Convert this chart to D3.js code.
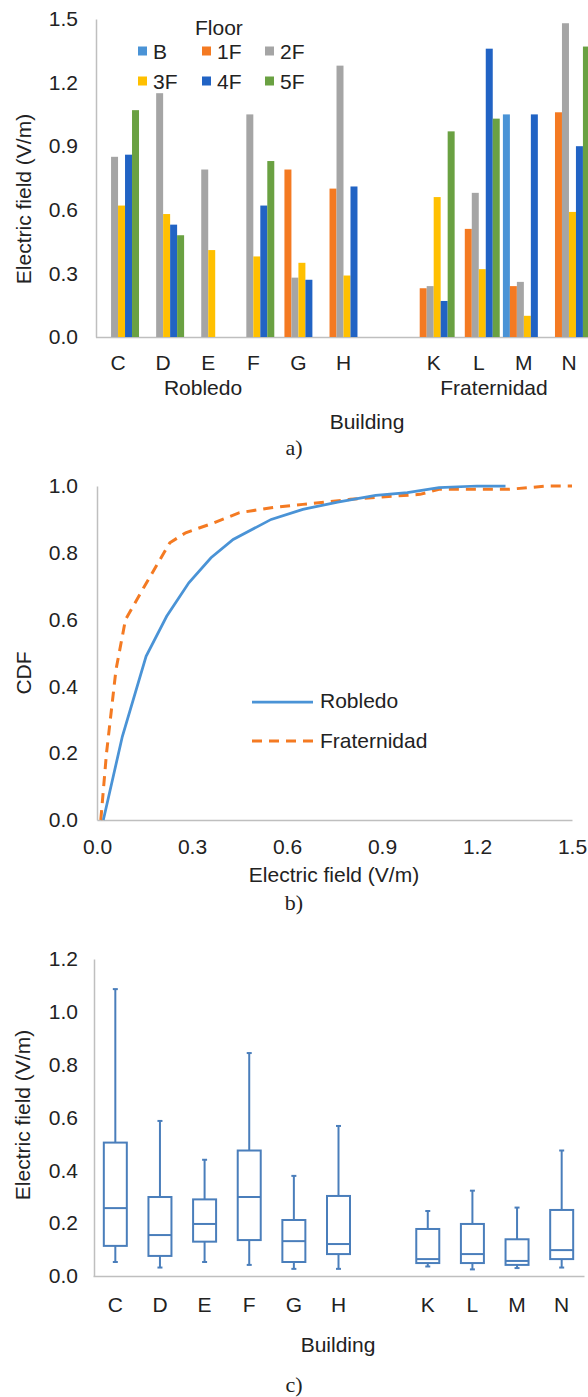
<!doctype html>
<html lang="en">
<head>
    <meta charset="utf-8">
    <title>Electric field by building</title>
    <script src="https://cdnjs.cloudflare.com/ajax/libs/d3/7.8.5/d3.min.js"></script>
    <style>
        body { margin: 0; background: #fff; }
        svg text {
            font-family: "Liberation Sans", Arial, sans-serif;
            font-size: 21px;
            fill: #222;
        }
        svg text.caption {
            font-family: "Liberation Serif", "Times New Roman", serif;
            font-size: 22px;
        }
        .axis path.domain { stroke: #bfbfbf; stroke-width: 1.5; }
        .axis line { stroke: none; }
    </style>
</head>
<body>
    <div id="chart"></div>
    <script>
        // ---- data ----
        var robledo = ["C", "D", "E", "F", "G", "H"];
        var fraternidad = ["K", "L", "M", "N"];
        var buildings = robledo.concat(fraternidad);
        var floors = ["B", "1F", "2F", "3F", "4F", "5F"];
        var floorColors = ["#4a93d6", "#f47a22", "#a5a5a5", "#ffc000", "#2163c4", "#6aa142"];

        // panel a: mean field per floor, in building order C..H, K..N (null = not measured)
        var fieldB  = [null, null, null, null, null, null, null, null, 1.05, null];
        var field1F = [null, null, null, null, 0.79, 0.70, 0.23, 0.51, 0.24, 1.06];
        var field2F = [0.85, 1.15, 0.79, 1.05, 0.28, 1.28, 0.24, 0.68, 0.26, 1.48];
        var field3F = [0.62, 0.58, 0.41, 0.38, 0.35, 0.29, 0.66, 0.32, 0.10, 0.59];
        var field4F = [0.86, 0.53, null, 0.62, 0.27, 0.71, 0.17, 1.36, 1.05, 0.90];
        var field5F = [1.07, 0.48, null, 0.83, null, null, 0.97, 1.03, null, 1.37];
        var barTicks = [0, 0.3, 0.6, 0.9, 1.2, 1.5];

        // panel b: empirical CDF points [field, cdf]
        var cdfRobledo = [[0.02, 0], [0.08, 0.25], [0.155, 0.49], [0.22, 0.61], [0.29, 0.71],
            [0.36, 0.785], [0.43, 0.84], [0.55, 0.90], [0.65, 0.93], [0.76, 0.952],
            [0.88, 0.972], [0.98, 0.98], [1.08, 0.995], [1.2, 1.0], [1.29, 1.0]];
        var cdfFraternidad = [[0.012, 0], [0.03, 0.2], [0.06, 0.45], [0.09, 0.6], [0.15, 0.70],
            [0.23, 0.83], [0.28, 0.86], [0.37, 0.89], [0.45, 0.92], [0.55, 0.935],
            [0.65, 0.945], [0.8, 0.96], [0.9, 0.967], [1.02, 0.975], [1.08, 0.99],
            [1.3, 0.99], [1.42, 1.0], [1.5, 1.0]];
        var cdfXTicks = [0, 0.3, 0.6, 0.9, 1.2, 1.5];
        var cdfYTicks = [0, 0.2, 0.4, 0.6, 0.8, 1.0];

        // panel c: box plot statistics per building
        var boxMin    = [0.053, 0.032, 0.053, 0.042, 0.027, 0.027, 0.036, 0.025, 0.030, 0.032];
        var boxQ1     = [0.114, 0.076, 0.130, 0.136, 0.053, 0.083, 0.049, 0.049, 0.042, 0.064];
        var boxMedian = [0.257, 0.155, 0.197, 0.299, 0.132, 0.121, 0.064, 0.083, 0.057, 0.098];
        var boxQ3     = [0.505, 0.299, 0.290, 0.475, 0.212, 0.303, 0.178, 0.197, 0.139, 0.250];
        var boxMax    = [1.086, 0.587, 0.440, 0.844, 0.379, 0.568, 0.246, 0.323, 0.259, 0.475];
        var boxTicks = [0, 0.2, 0.4, 0.6, 0.8, 1.0, 1.2];

        var floorValues = [fieldB, field1F, field2F, field3F, field4F, field5F];
        var slots = robledo.concat(["gap"], fraternidad);
        var fmt = d3.format(".1f");

        var svg = d3.select('#chart')
            .append('svg')
            .attr('width', 588)
            .attr('height', 1397);

        function yTitle(g, text, cx, cy) {
            g.append('text')
                .attr('transform', 'translate(' + cx + ',' + cy + ') rotate(-90)')
                .attr('text-anchor', 'middle')
                .attr('dy', '0.36em')
                .text(text);
        }

        function label(g, text, x, y, cls) {
            g.append('text')
                .attr('class', cls || null)
                .attr('x', x)
                .attr('y', y)
                .attr('text-anchor', 'middle')
                .text(text);
        }

        // ===== panel a: grouped bars =====
        var a = svg.append('g');
        var xa = d3.scaleBand().domain(slots).range([95.5, 591.5])
            .paddingInner(0.07).paddingOuter(0.035);
        var xf = d3.scaleBand().domain(floors).range([0, xa.bandwidth()]);
        var ya = d3.scaleLinear().domain([0, 1.5]).range([337, 19]);

        a.append('g').attr('class', 'axis')
            .attr('transform', 'translate(96,0)')
            .call(d3.axisLeft(ya).tickValues(barTicks).tickFormat(fmt).tickSize(0).tickSizeOuter(0).tickPadding(18))
            .call(function(g) { g.selectAll('text').style('font-size', '21px'); });

        a.append('g').attr('class', 'axis')
            .attr('transform', 'translate(0,' + ya(0) + ')')
            .call(d3.axisBottom(xa).tickSize(0).tickSizeOuter(0).tickPadding(18)
                .tickFormat(function(d) { return d === 'gap' ? '' : d; }))
            .call(function(g) { g.selectAll('text').style('font-size', '21px'); });

        var barData = [];
        floorValues.forEach(function(vals, fi) {
            vals.forEach(function(v, bi) {
                if (v !== null) barData.push({ building: buildings[bi], floor: floors[fi], value: v, color: floorColors[fi] });
            });
        });

        a.selectAll('rect.bar')
            .data(barData)
            .enter().append('rect')
            .attr('class', 'bar')
            .attr('x', function(d) { return xa(d.building) + xf(d.floor); })
            .attr('width', xf.bandwidth())
            .attr('y', function(d) { return ya(d.value); })
            .attr('height', function(d) { return ya(0) - ya(d.value); })
            .attr('fill', function(d) { return d.color; });

        yTitle(a, 'Electric field (V/m)', 23, 199);
        label(a, 'Robledo', 203, 395);
        label(a, 'Fraternidad', 494, 395);
        label(a, 'Building', 367, 429);
        label(a, 'a)', 294, 455, 'caption');

        // legend
        a.append('text').attr('x', 195).attr('y', 34.5).text('Floor');
        var legendPos = [[138, 51], [202, 51], [265, 51], [138, 81], [202, 81], [265, 81]];
        var leg = a.selectAll('g.leg')
            .data(floors)
            .enter().append('g')
            .attr('class', 'leg')
            .attr('transform', function(d, i) { return 'translate(' + legendPos[i][0] + ',' + legendPos[i][1] + ')'; });
        leg.append('rect')
            .attr('x', 0).attr('y', -4.5)
            .attr('width', 9).attr('height', 9)
            .attr('fill', function(d, i) { return floorColors[i]; });
        leg.append('text')
            .attr('x', 15).attr('y', 7.5)
            .text(function(d) { return d; });

        // ===== panel b: CDF =====
        var b = svg.append('g');
        var xb = d3.scaleLinear().domain([0, 1.5]).range([97, 572]);
        var yb = d3.scaleLinear().domain([0, 1]).range([820, 486]);

        b.append('g').attr('class', 'axis')
            .attr('transform', 'translate(' + xb(0) + ',0)')
            .call(d3.axisLeft(yb).tickValues(cdfYTicks).tickFormat(fmt).tickSize(0).tickSizeOuter(0).tickPadding(19))
            .call(function(g) { g.selectAll('text').style('font-size', '21px'); });
        b.append('g').attr('class', 'axis')
            .attr('transform', 'translate(0,' + yb(0) + ')')
            .call(d3.axisBottom(xb).tickValues(cdfXTicks).tickFormat(fmt).tickSize(0).tickSizeOuter(0).tickPadding(19))
            .call(function(g) { g.selectAll('text').style('font-size', '21px'); });

        var line = d3.line()
            .x(function(d) { return xb(d[0]); })
            .y(function(d) { return yb(d[1]); });

        b.append('path')
            .datum(cdfFraternidad)
            .attr('d', line)
            .attr('fill', 'none')
            .attr('stroke', '#f47a22')
            .attr('stroke-width', 3)
            .attr('stroke-dasharray', '10,7');
        b.append('path')
            .datum(cdfRobledo)
            .attr('d', line)
            .attr('fill', 'none')
            .attr('stroke', '#4a93d6')
            .attr('stroke-width', 2.75);

        // legend
        b.append('line').attr('x1', 252).attr('x2', 313).attr('y1', 702).attr('y2', 702)
            .attr('stroke', '#4a93d6').attr('stroke-width', 2.75);
        b.append('line').attr('x1', 252).attr('x2', 313).attr('y1', 741).attr('y2', 741)
            .attr('stroke', '#f47a22').attr('stroke-width', 3).attr('stroke-dasharray', '10,7');
        b.append('text').attr('x', 320).attr('y', 708).text('Robledo');
        b.append('text').attr('x', 320).attr('y', 748).text('Fraternidad');

        yTitle(b, 'CDF', 23, 673);
        label(b, 'Electric field (V/m)', 334, 882);
        label(b, 'b)', 294, 910, 'caption');

        // ===== panel c: box plots =====
        var c = svg.append('g');
        var xc = d3.scaleBand().domain(slots).range([93, 584]);
        var yc = d3.scaleLinear().domain([0, 1.2]).range([1276, 959]);
        var boxW = 23, capW = 2.5;

        c.append('g').attr('class', 'axis')
            .attr('transform', 'translate(94,0)')
            .call(d3.axisLeft(yc).tickValues(boxTicks).tickFormat(fmt).tickSize(0).tickSizeOuter(0).tickPadding(16))
            .call(function(g) { g.selectAll('text').style('font-size', '21px'); });
        c.append('g').attr('class', 'axis')
            .attr('transform', 'translate(0,' + yc(0) + ')')
            .call(d3.axisBottom(xc).tickSize(0).tickSizeOuter(0).tickPadding(21)
                .tickFormat(function(d) { return d === 'gap' ? '' : d; }))
            .call(function(g) { g.selectAll('text').style('font-size', '21px'); });

        var boxes = buildings.map(function(name, i) {
            return { name: name, min: boxMin[i], q1: boxQ1[i], med: boxMedian[i], q3: boxQ3[i], max: boxMax[i] };
        });
        var bx = c.selectAll('g.box')
            .data(boxes)
            .enter().append('g')
            .attr('class', 'box')
            .attr('transform', function(d) { return 'translate(' + (xc(d.name) + xc.bandwidth() / 2) + ',0)'; })
            .attr('stroke', '#4a7ebb')
            .attr('stroke-width', 2)
            .attr('fill', 'none');

        bx.append('line').attr('y1', function(d) { return yc(d.max); }).attr('y2', function(d) { return yc(d.q3); });
        bx.append('line').attr('y1', function(d) { return yc(d.q1); }).attr('y2', function(d) { return yc(d.min); });
        bx.append('line').attr('x1', -capW).attr('x2', capW)
            .attr('y1', function(d) { return yc(d.max); }).attr('y2', function(d) { return yc(d.max); });
        bx.append('line').attr('x1', -capW).attr('x2', capW)
            .attr('y1', function(d) { return yc(d.min); }).attr('y2', function(d) { return yc(d.min); });
        bx.append('rect')
            .attr('x', -boxW / 2).attr('width', boxW)
            .attr('y', function(d) { return yc(d.q3); })
            .attr('height', function(d) { return yc(d.q1) - yc(d.q3); })
            .attr('fill', '#fff');
        bx.append('line').attr('x1', -boxW / 2).attr('x2', boxW / 2)
            .attr('y1', function(d) { return yc(d.med); }).attr('y2', function(d) { return yc(d.med); });

        yTitle(c, 'Electric field (V/m)', 22, 1115);
        label(c, 'Building', 338, 1352);
        label(c, 'c)', 294, 1392, 'caption');
    </script>
</body>
</html>
